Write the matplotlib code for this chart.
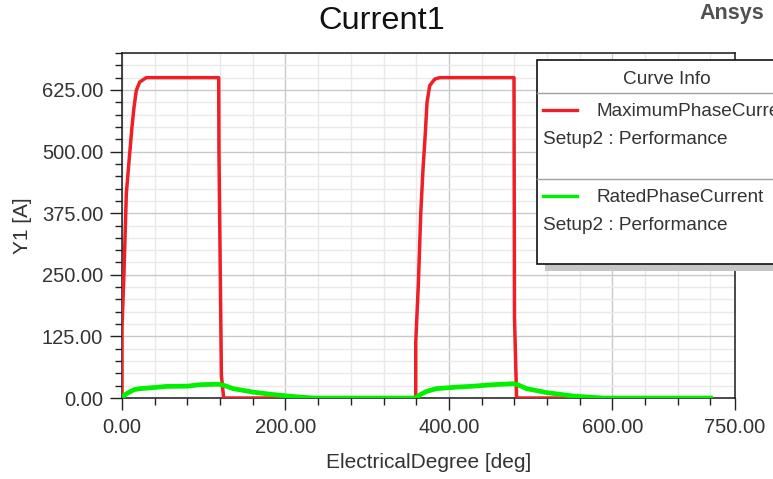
import matplotlib
matplotlib.use("Agg")
import matplotlib.pyplot as plt
from matplotlib.patches import Rectangle
from matplotlib.lines import Line2D

plt.rcParams["font.family"] = ["Liberation Sans", "DejaVu Sans"]

W, H = 773, 479

# MaximumPhaseCurrent trace (deg, A)
max_deg = [0, 0, 2.4, 5.3, 9.4, 12.2, 14.7, 17.5, 21.6, 29.7, 118.3, 118.6, 121.6, 124.4,
           359.4, 359.4, 362.6, 365.5, 368.3, 370.8, 373.2, 376.5, 382.6, 388.7, 479.6, 480.2, 482.8, 720]
max_amp = [0, 144, 252, 415, 496, 550, 590, 624, 641, 650, 650, 505, 46, 0,
           0, 113, 232, 374, 465, 529, 600, 634, 647, 650, 650, 164, 0, 0]

# RatedPhaseCurrent trace (deg, A)
rated_deg = [0, 3, 9, 15, 22, 38, 54, 80, 95, 118, 124, 136, 160, 185, 203, 217, 235,
             359.4, 365, 372, 384.7, 409, 430, 454, 478.6, 484, 495, 519.5, 552, 570, 589, 720]
rated_amp = [0, 6, 12, 17, 19, 21, 23.5, 24, 27, 28, 26, 19, 12, 7, 4, 2, 0,
             0, 7, 13, 19, 22, 24, 27, 29, 27, 19, 11, 4, 2, 0, 0]

x_major = [0, 200, 400, 600, 750]
x_minor = list(range(0, 721, 40))
y_major = [0, 125, 250, 375, 500, 625]
y_minor = list(range(0, 701, 25))

RED = "#ee1f26"
GREEN = "#00f000"


def fx(px):
    return px / W


def fy(py):
    return 1 - py / H


fig = plt.figure(figsize=(W / 100, H / 100), dpi=100)
ax = fig.add_axes([fx(122), fy(398), (735 - 122) / W, (398 - 53) / H])

ax.plot(max_deg, max_amp, color=RED, lw=2.5, zorder=3)
ax.plot(rated_deg, rated_amp, color=GREEN, lw=3.4, zorder=4)

ax.set_xlim(0, 750)
ax.set_ylim(0, 700)
ax.set_xticks(x_major)
ax.set_xticks(x_minor, minor=True)
ax.set_yticks(y_major)
ax.set_yticks(y_minor, minor=True)
ax.set_xticklabels([f"{v:.2f}" for v in x_major])
ax.set_yticklabels([f"{v:.2f}" for v in y_major])

ax.grid(which="minor", color="#e9e9e9", lw=1.0, zorder=0)
ax.grid(which="major", color="#c9c9c9", lw=1.0, zorder=0)
ax.set_axisbelow(True)

ax.tick_params(axis="x", which="major", pad=5.5)
ax.tick_params(axis="y", which="major", pad=5)
ax.tick_params(which="major", length=8.6, width=1.0, color="#222222",
               labelsize=14.5, labelcolor="#333333")
ax.tick_params(which="minor", length=4.7, width=1.0, color="#222222")
for s in ax.spines.values():
    s.set_color("#1a1a1a")
    s.set_linewidth(1.1)

fig.text(fx(382), fy(21), "Current1", fontsize=23.4, ha="center", va="center", color="#111111")
fig.text(fx(731.5), fy(13.5), "Ansys", fontsize=15.5, fontweight="bold", ha="center", va="center",
         color="#505050")
fig.text(fx(428.5), fy(463), "ElectricalDegree [deg]", fontsize=15, ha="center", va="center",
         color="#333333")
fig.text(fx(22), fy(226), "Y1 [A]", fontsize=15, rotation=90, ha="center", va="center",
         color="#333333")

# Ansys-style "Curve Info" box, sticks out past the right edge
box_l, box_t, box_r, box_b = 537, 60, 800, 264
fig.add_artist(Rectangle((fx(box_l + 8), fy(box_b + 7)), (box_r - box_l) / W, (box_b - box_t) / H,
                         transform=fig.transFigure, facecolor="#c6c6c6", edgecolor="none", zorder=5))
fig.add_artist(Rectangle((fx(box_l), fy(box_b)), (box_r - box_l) / W, (box_b - box_t) / H,
                         transform=fig.transFigure, facecolor="white", edgecolor="#111111",
                         lw=1.2, zorder=6))
for sep in (93.3, 179.3):
    fig.add_artist(Line2D([fx(box_l), fx(box_r)], [fy(sep), fy(sep)], transform=fig.transFigure,
                          color="#a0a0a0", lw=1.0, zorder=7))
fig.text(fx(666.5), fy(80), "Curve Info", fontsize=13.7, ha="center", va="center",
         color="#333333", zorder=8)
entries = [("MaximumPhaseCurrent", RED, 110.5, 140), ("RatedPhaseCurrent", GREEN, 196, 225)]
for name, col, y1, y2 in entries:
    fig.add_artist(Line2D([fx(543), fx(577)], [fy(y1), fy(y1)], transform=fig.transFigure,
                          color=col, lw=2.4, zorder=8))
    fig.text(fx(596.7), fy(y1 + 1), name, fontsize=13.7, ha="left", va="center",
             color="#333333", zorder=8)
    fig.text(fx(543), fy(y2), "Setup2 : Performance", fontsize=13.7, ha="left", va="center",
             color="#333333", zorder=8)

fig.savefig("out.png", dpi=100)
